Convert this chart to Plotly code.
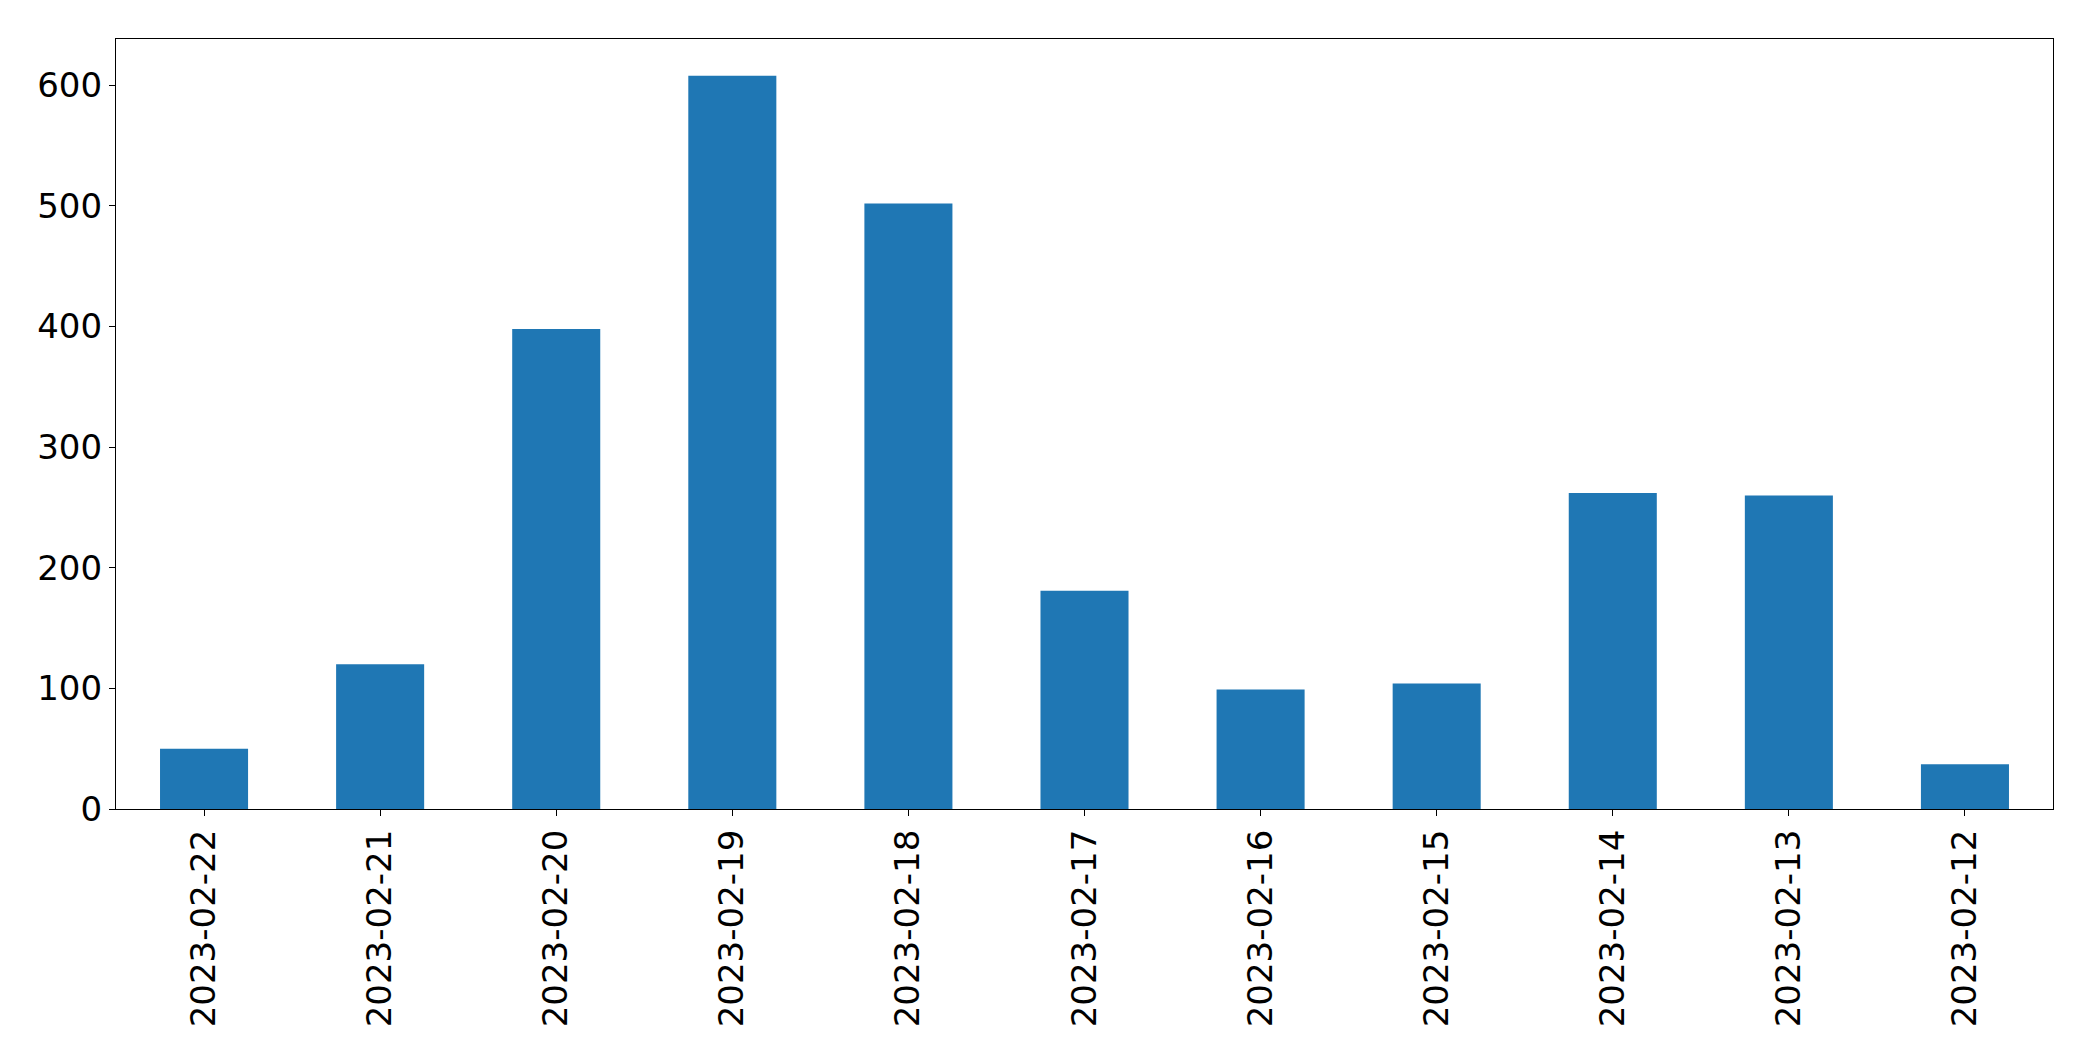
import plotly.graph_objects as go

dates = ["2023-02-22", "2023-02-21", "2023-02-20", "2023-02-19", "2023-02-18",
         "2023-02-17", "2023-02-16", "2023-02-15", "2023-02-14", "2023-02-13",
         "2023-02-12"]
counts = [50, 120, 398, 608, 502, 181, 99, 104, 262, 260, 37]
y_ticks = [0, 100, 200, 300, 400, 500, 600]

fig = go.Figure(go.Bar(x=dates, y=counts, width=0.5, marker=dict(color="#1f77b4", line=dict(width=0))))

font = dict(family="DejaVu Sans", size=34, color="black")
fig.update_layout(
    width=2085, height=1053,
    margin=dict(l=108, r=40, t=31, b=252),
    paper_bgcolor="white", plot_bgcolor="white",
    showlegend=False, font=font,
)
fig.update_xaxes(
    type="category", range=[-0.5, len(dates) - 0.5], tickangle=-90,
    showline=True, linecolor="black", linewidth=1.2, mirror=True,
    ticks="outside", ticklen=6, tickwidth=1.2, tickcolor="black",
    showgrid=False, tickfont=font,
)
fig.update_yaxes(
    range=[0, max(counts) * 1.05], tickvals=y_ticks,
    showline=True, linecolor="black", linewidth=1.2, mirror=True,
    ticks="outside", ticklen=6, tickwidth=1.2, tickcolor="black",
    showgrid=False, zeroline=False, tickfont=font,
)
fig.write_html("out.html")
